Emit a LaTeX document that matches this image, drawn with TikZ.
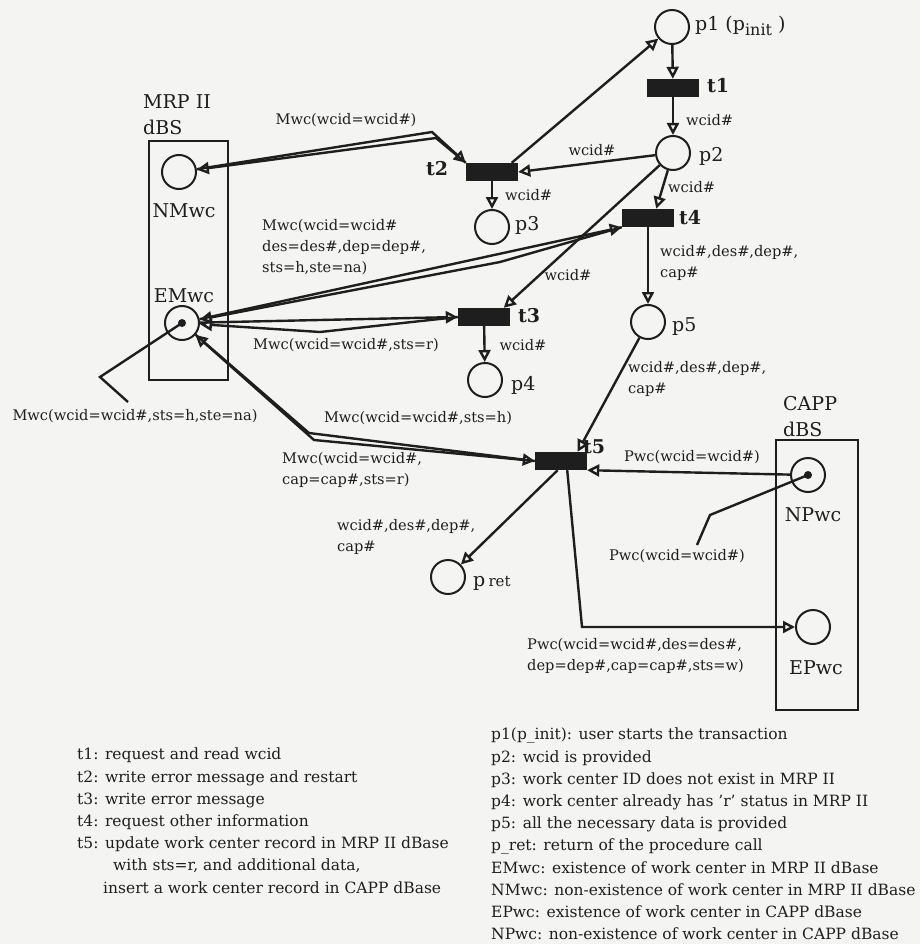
\documentclass[tikz,border=0pt]{standalone}
\usepackage{fontspec}
\setmainfont{DejaVu Serif}
\usetikzlibrary{arrows.meta}
\definecolor{paper}{HTML}{F4F4F2}
\definecolor{ink}{HTML}{1E1E1E}
\tikzset{
  place/.style={circle,draw=ink,line width=2pt,minimum size=34pt,inner sep=0pt},
  trans/.style={rectangle,fill=ink,minimum width=52pt,minimum height=18pt,inner sep=0pt},
  token/.style={circle,fill=ink,minimum size=8pt,inner sep=0pt},
  arc/.style={draw=ink,line width=2.4pt,-{Triangle[open,length=12pt,width=12pt]}},
  note/.style={draw=ink,line width=2.4pt},
  dbox/.style={draw=ink,line width=1.8pt},
  lbl/.style={text=ink,inner sep=0pt,align=left,font=\fontsize{14.6}{21}\selectfont},
  legend/.style={text=ink,inner sep=0pt,align=left,font=\fontsize{15.5}{22.2}\selectfont},
  big/.style={text=ink,inner sep=0pt,font=\fontsize{19}{26}\selectfont},
  tname/.style={text=ink,inner sep=0pt,font=\fontsize{19}{22}\bfseries},
}
\begin{document}
\begin{tikzpicture}[x=1pt,y=-1pt]
  \fill[paper] (0,0) rectangle (920,944);
  \useasboundingbox (0,0) rectangle (920,944);
  % data bases
  \draw[dbox] (149,141) rectangle (228,380);
  \draw[dbox] (776,440) rectangle (858,710);
  \node[big,anchor=west,align=left] (mrp) at (143,115) {MRP II\\dBS};
  \node[big,anchor=west,align=left] (capp) at (783,417) {CAPP\\dBS};

  % places
  \node[place] (p1) at (672,27) {};
  \node[place] (p2) at (673,153) {};
  \node[place] (p3) at (492,227) {};
  \node[place] (p4) at (485,380) {};
  \node[place] (p5) at (648,322) {};
  \node[place] (pret) at (448,577) {};
  \node[place] (NMwc) at (179,172) {};
  \node[place] (EMwc) at (182,323) {};
  \node[place] (NPwc) at (808,475) {};
  \node[place] (EPwc) at (813,627) {};
  \node[token] (EMtok) at (EMwc.center) {};
  \node[token] (NPtok) at (NPwc.center) {};

  % transitions
  \node[trans] (t1) at (673,88) {};
  \node[trans] (t2) at (492,172) {};
  \node[trans] (t3) at (484,317) {};
  \node[trans] (t4) at (648,218) {};
  \node[trans] (t5) at (561,461) {};

  % names
  \node[big,anchor=west] (lp1) at (695,26) {p1 (p\raisebox{-0.55ex}{\fontsize{16}{18}\selectfont init} )};
  \node[big,anchor=west] (lp2) at (699,156) {p2};
  \node[big,anchor=west] (lp3) at (515,225) {p3};
  \node[big,anchor=west] (lp4) at (511,385) {p4};
  \node[big,anchor=west] (lp5) at (672,327) {p5};
  \node[big,anchor=west] (lpret) at (473,583) {p\,{\fontsize{15}{16}\selectfont ret}};
  \node[tname,anchor=west] (lt1) at (707,86) {t1};
  \node[tname] (lt2) at (437,169) {t2};
  \node[tname,anchor=west] (lt3) at (518,316) {t3};
  \node[tname,anchor=west] (lt4) at (679,218) {t4};
  \node[tname,anchor=west] (lt5) at (583,447) {t5};
  \node[big] (lNM) at (184,211) {NMwc};
  \node[big] (lEM) at (184,296) {EMwc};
  \node[big] (lNP) at (813,515) {NPwc};
  \node[big] (lEP) at (816,668) {EPwc};

  % bends
  \coordinate (bA) at (432,132);
  \coordinate (bB) at (436,138);
  \coordinate (b4) at (500,262);
  \coordinate (b3) at (320,332);
  \coordinate (b5a) at (309,433);
  \coordinate (b5b) at (314,440);
  \coordinate (c5) at (582,627);
  \coordinate (emk1) at (100,377);
  \coordinate (emk2) at (128,402);
  \coordinate (npk1) at (710,515);
  \coordinate (npk2) at (697,545);

  % arcs
  \draw[arc] (p1) -- (t1);
  \draw[arc] (t1) -- (p2);
  \draw[arc] (p2) -- (t2.east);
  \draw[arc] (t2.25) -- (p1);
  \draw[arc] (t2) -- (p3);
  \draw[arc] (p2) -- (t4.48);
  \draw[arc] (p2) -- (t3.25);
  \draw[arc] (t3) -- (p4);
  \draw[arc] (t4) -- (p5);
  \draw[arc] (p5) -- (t5.29);
  \draw[arc] (t5.250) -- (pret);
  \draw[arc] (NPwc) -- (t5.south east);
  \draw[arc] (t5.304) -- (c5) -- (EPwc);
  \draw[arc] (NMwc) -- (bA) -- (t2.north west);
  \draw[arc] (t2.north west) -- (bB) -- (NMwc);
  \draw[arc] (EMwc) -- (t4.south west);
  \draw[arc] (t4.south west) -- (b4) -- (EMwc);
  \draw[arc] (EMwc) -- (t3.west);
  \draw[arc] (t3.west) -- (b3) -- (EMwc);
  \draw[arc] (EMwc) -- (b5a) -- (t5.west);
  \draw[arc] (t5.west) -- (b5b) -- (EMwc);
  \draw[note] (EMtok.center) -- (emk1) -- (emk2);
  \draw[note] (NPtok.center) -- (npk1) -- (npk2);

  % arc inscriptions
  \node[lbl,anchor=west] (a1) at (686,120) {wcid\#};
  \node[lbl] (a2) at (592,150) {wcid\#};
  \node[lbl,anchor=west] (a3) at (668,187) {wcid\#};
  \node[lbl,anchor=west] (a4) at (505,195) {wcid\#};
  \node[lbl] (a5) at (568,275) {wcid\#};
  \node[lbl] (a6) at (523,345) {wcid\#};
  \node[lbl,anchor=west] (a7) at (660,263) {wcid\#,des\#,dep\#,\\cap\#};
  \node[lbl,anchor=west] (a8) at (628,379) {wcid\#,des\#,dep\#,\\cap\#};
  \node[lbl,anchor=west] (a9) at (337,537) {wcid\#,des\#,dep\#,\\cap\#};
  \node[lbl] (m1) at (346,120) {Mwc(wcid=wcid\#)};
  \node[lbl,anchor=west] (m2) at (262,247) {Mwc(wcid=wcid\#\\des=des\#,dep=dep\#,\\sts=h,ste=na)};
  \node[lbl] (m3) at (346,345) {Mwc(wcid=wcid\#,sts=r)};
  \node[lbl] (m4) at (135,416) {Mwc(wcid=wcid\#,sts=h,ste=na)};
  \node[lbl] (m5) at (418,418) {Mwc(wcid=wcid\#,sts=h)};
  \node[lbl,anchor=west] (m6) at (282,470) {Mwc(wcid=wcid\#,\\cap=cap\#,sts=r)};
  \node[lbl] (w1) at (692,457) {Pwc(wcid=wcid\#)};
  \node[lbl] (w2) at (677,556) {Pwc(wcid=wcid\#)};
  \node[lbl,anchor=west] (w3) at (527,656) {Pwc(wcid=wcid\#,des=des\#,\\dep=dep\#,cap=cap\#,sts=w)};

  % legends
  \node[legend,anchor=north west] (tleg) at (77,748)
    {t1: request and read wcid\\
     t2: write error message and restart\\
     t3: write error message\\
     t4: request other information\\
     t5: update work center record in MRP II dBase\\
     \hspace*{36pt}with sts=r, and additional data,\\
     \hspace*{26pt}insert a work center record in CAPP dBase};
  \node[legend,anchor=north west] (pleg) at (491,728)
    {p1(p\_init): user starts the transaction\\
     p2: wcid is provided\\
     p3: work center ID does not exist in MRP II\\
     p4: work center already has 'r' status in MRP II\\
     p5: all the necessary data is provided\\
     p\_ret: return of the procedure call\\
     EMwc: existence of work center in MRP II dBase\\
     NMwc: non-existence of work center in MRP II dBase\\
     EPwc: existence of work center in CAPP dBase\\
     NPwc: non-existence of work center in CAPP dBase};
\end{tikzpicture}
\end{document}
